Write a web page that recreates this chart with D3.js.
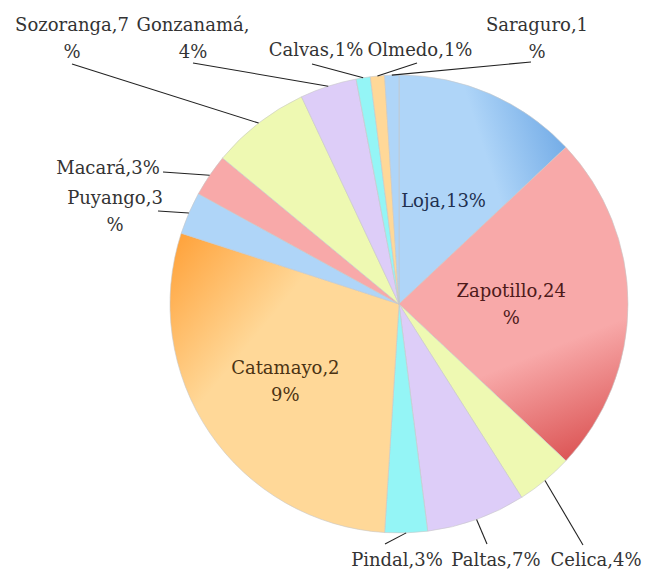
<!DOCTYPE html>
<html>
<head>
<meta charset="utf-8">
<script src="https://cdn.jsdelivr.net/npm/d3@7"></script>
<style>
  body { margin: 0; background: #fff; }
  text { font-family: "DejaVu Serif", serif; }
</style>
</head>
<body>
<script>
const width = 650, height = 574;

// data
const cantones = ["Loja", "Zapotillo", "Celica", "Paltas", "Pindal", "Catamayo", "Puyango",
  "Macará", "Sozoranga", "Gonzanamá", "Calvas", "Olmedo", "Saraguro"];
const pct = [13, 24, 4, 7, 3, 29, 3, 3, 7, 4, 1, 1, 1];
// label text as it wraps in the chart
const labelLines = [["Loja,13%"], ["Zapotillo,24", "%"], ["Celica,4%"], ["Paltas,7%"], ["Pindal,3%"],
  ["Catamayo,2", "9%"], ["Puyango,3", "%"], ["Macará,3%"], ["Sozoranga,7", "%"], ["Gonzanamá,", "4%"],
  ["Calvas,1%"], ["Olmedo,1%"], ["Saraguro,1", "%"]];

// colour cycle (light, dark) like the office palette
const palette = [
  ["#afd5f8", "#70a9e6"],
  ["#f8a9a9", "#dc5656"],
  ["#eef9b2", "#e2f29c"],
  ["#ddcdf8", "#c9b2f0"],
  ["#94f5f6", "#7eeaf2"],
  ["#ffd898", "#ffa33c"]
];
const textCol = ["#1e3050", "#4d1a1a", "#404040", "#404040", "#404040", "#4a3213"];

// layout: inside labels by radius fraction, outside labels at fixed spots with leader end
const layout = [
  { inside: 0.49 },
  { inside: 0.49 },
  { x: 596, y: 560, lx: 583, ly: 545 },
  { x: 496, y: 560, lx: 487, ly: 544 },
  { x: 397, y: 560, lx: 385, ly: 544 },
  { inside: 0.6 },
  { x: 115, y: 198, lx: 158, ly: 211 },
  { x: 108, y: 168, lx: 163, ly: 172 },
  { x: 72, y: 25, lx: 72, ly: 64 },
  { x: 193, y: 25, lx: 193, ly: 63 },
  { x: 316, y: 50, lx: 312, ly: 64 },
  { x: 420, y: 50, lx: 417, ly: 63 },
  { x: 537, y: 25, lx: 531, ly: 62 }
];

const cx = 399, cy = 304, R = 229;

const svg = d3.select("body").append("svg")
  .attr("width", width)
  .attr("height", height);

const defs = svg.append("defs");
const g = svg.append("g").attr("transform", `translate(${cx},${cy})`);

const pie = d3.pie().sort(null).value(d => d)(pct);
const arc = d3.arc().innerRadius(0).outerRadius(R);

function pt(a, r) { return [Math.sin(a) * r, -Math.cos(a) * r]; }

// one gradient per slice, light at the start edge, darker toward the end edge
// (small slices stay nearly flat)
pie.forEach((d, i) => {
  const c = palette[i % palette.length];
  const span = d.endAngle - d.startAngle;
  const k = Math.max(0, Math.min(1, (span - 0.45) / 0.4));
  const dark = d3.interpolateRgb(c[0], c[1])(k);
  const p0 = pt(d.startAngle, R * 0.45);
  const p1 = pt(d.endAngle, R);
  const gr = defs.append("linearGradient")
    .attr("id", "grad" + i)
    .attr("gradientUnits", "userSpaceOnUse")
    .attr("x1", p0[0]).attr("y1", p0[1])
    .attr("x2", p1[0]).attr("y2", p1[1]);
  gr.append("stop").attr("offset", 0).attr("stop-color", c[0]);
  gr.append("stop").attr("offset", 0.55).attr("stop-color", c[0]);
  gr.append("stop").attr("offset", 1).attr("stop-color", dark);
});

g.selectAll("path.slice")
  .data(pie)
  .enter().append("path")
  .attr("class", "slice")
  .attr("d", arc)
  .attr("fill", (d, i) => `url(#grad${i})`)
  .attr("stroke", "#c8c8c8")
  .attr("stroke-width", 0.6);

// leader lines
pie.forEach((d, i) => {
  const L = layout[i];
  if (L.inside) return;
  const mid = (d.startAngle + d.endAngle) / 2;
  const e = pt(mid, R);
  svg.append("line")
    .attr("x1", L.lx).attr("y1", L.ly)
    .attr("x2", cx + e[0]).attr("y2", cy + e[1])
    .attr("stroke", "#222")
    .attr("stroke-width", 1.1);
});

// labels
const fs = 18, lh = 27;
pie.forEach((d, i) => {
  const L = layout[i];
  const lines = labelLines[i];
  let x, y;
  if (L.inside) {
    const mid = (d.startAngle + d.endAngle) / 2;
    const p = pt(mid, R * L.inside);
    x = cx + p[0];
    y = cy + p[1] - (lines.length - 1) * lh / 2;
  } else {
    x = L.x; y = L.y;
  }
  const t = svg.append("text")
    .attr("text-anchor", "middle")
    .attr("font-size", fs)
    .attr("fill", L.inside ? textCol[i % textCol.length] : "#333");
  lines.forEach((s, k) => {
    t.append("tspan")
      .attr("x", x)
      .attr("y", y + k * lh)
      .attr("dy", "0.35em")
      .text(s);
  });
});
</script>
</body>
</html>
